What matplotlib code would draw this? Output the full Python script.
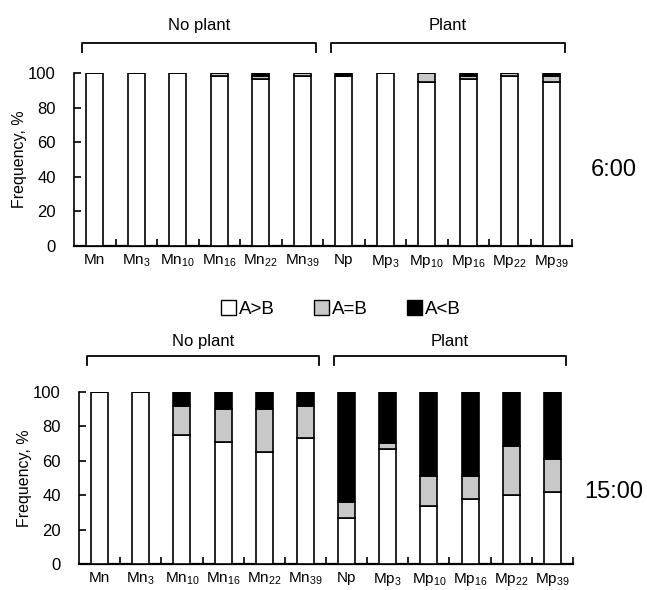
import matplotlib
matplotlib.use("Agg")
import matplotlib.pyplot as plt
import matplotlib.transforms as mtransforms
from matplotlib.patches import Patch
from matplotlib.lines import Line2D
import numpy as np

plt.rcParams['font.family'] = ['Liberation Sans', 'DejaVu Sans']
plt.rcParams['mathtext.fontset'] = 'custom'
plt.rcParams['mathtext.rm'] = 'Liberation Sans'
plt.rcParams['mathtext.it'] = 'Liberation Sans'
plt.rcParams['mathtext.default'] = 'regular'

categories = ["Mn", "Mn$_{3}$", "Mn$_{10}$", "Mn$_{16}$", "Mn$_{22}$", "Mn$_{39}$",
              "Np", "Mp$_{3}$", "Mp$_{10}$", "Mp$_{16}$", "Mp$_{22}$", "Mp$_{39}$"]
series_names = ["A>B", "A=B", "A<B"]
groups = ["No plant", "Plant"]
times = ["6:00", "15:00"]

# 6:00
am_gt = [100, 100, 100, 98.5, 96.5, 98.5, 98, 100, 95, 96.5, 98.5, 95]
am_eq = [0, 0, 0, 1.5, 1.5, 1.5, 0, 0, 5, 1.5, 1.5, 3]
am_lt = [0, 0, 0, 0, 2, 0, 2, 0, 0, 2, 0, 2]
# 15:00
pm_gt = [100, 100, 75, 71, 65, 73, 27, 67, 34, 38, 40, 42]
pm_eq = [0, 0, 17, 19, 25, 19, 9, 3.5, 17, 13, 28.5, 19]
pm_lt = [0, 0, 8, 10, 10, 8, 64, 29.5, 49, 49, 31.5, 39]

colors = ["white", "#c8c8c8", "black"]

fig = plt.figure(figsize=(6.47, 5.9), dpi=100)
ax1 = fig.add_axes([74/647, 1-246/590, 498/647, 173/590])
ax2 = fig.add_axes([79/647, 1-564/590, 494/647, 172/590])

def draw(ax, data, br_y, br_tip, txt_y, time_label, time_y):
    x = np.arange(len(categories))
    bottom = np.zeros(len(categories))
    for vals, c in zip(data, colors):
        v = np.array(vals, dtype=float)
        ax.bar(x, v, 0.41, bottom=bottom, color=c, edgecolor='black', linewidth=1.2, zorder=3)
        bottom += v
    ax.set_xlim(-0.5, len(categories) - 0.5)
    ax.set_ylim(0, 100)
    ax.set_yticks(np.arange(0, 101, 20))
    ax.tick_params(axis='y', direction='in', length=5, width=1.2, labelsize=12, pad=13)
    ax.set_xticks(x)
    ax.set_xticklabels(categories, fontsize=11)
    ax.tick_params(axis='x', length=0, pad=5)
    ax.set_xticks(np.arange(0.5, len(categories), 1), minor=True)
    ax.tick_params(axis='x', which='minor', direction='in', length=5, width=1.2)
    for s in ['top', 'right']:
        ax.spines[s].set_visible(False)
    ax.spines['left'].set_linewidth(1.2)
    ax.spines['bottom'].set_linewidth(1.6)
    ax.set_ylabel("Frequency, %", fontsize=11.5, labelpad=1)
    trans = mtransforms.blended_transform_factory(ax.transData, ax.transAxes)
    spans = [(0, 5), (6, 11)]
    for (a, b), g in zip(spans, groups):
        x0, x1 = a - 0.31, b + 0.34
        ax.add_line(Line2D([x0, x0, x1, x1], [br_tip, br_y, br_y, br_tip],
                           transform=trans, color='black', lw=1.3, clip_on=False))
        ax.text((x0 + x1) / 2, txt_y, g, transform=trans, ha='center', va='center',
                fontsize=12)
    fig.text(614/647, 1 - time_y/590, time_label, ha='center', va='center', fontsize=17)

draw(ax1, [am_gt, am_eq, am_lt], 1.173, 1.121, 1.272, times[0], 170)
draw(ax2, [pm_gt, pm_eq, pm_lt], 1.209, 1.157, 1.291, times[1], 492)

handles = [Patch(facecolor=c, edgecolor='black', linewidth=1.0) for c in colors]
fig.legend(handles, series_names, loc='center', bbox_to_anchor=(341/647, 1-309/590),
           ncol=3, frameon=False, fontsize=13.5, handlelength=0.8, handleheight=0.8,
           handletextpad=0.15, columnspacing=2.1)

fig.savefig("out.png", dpi=100)
